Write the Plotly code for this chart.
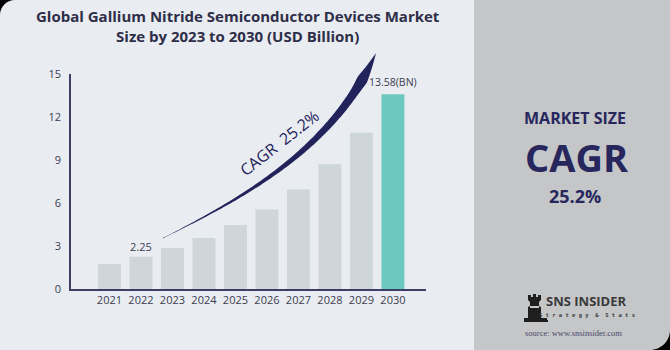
import numpy as np
import plotly.graph_objects as go

years = ["2021", "2022", "2023", "2024", "2025", "2026", "2027", "2028", "2029", "2030"]
values = [1.74, 2.25, 2.87, 3.56, 4.46, 5.55, 6.94, 8.70, 10.90, 13.58]
y_ticks = [0, 3, 6, 9, 12, 15]
bar_colors = ["#CFD6DB"] * 9 + ["#6CC9C0"]
title_text = "Global Gallium Nitride Semiconductor Devices Market<br>Size by 2023 to 2030 (USD Billion)"
cagr_text = "CAGR  25.2%"

W, H = 670, 350
L, R, T, B = 71, 244, 74, 61
PW, PH = W - L - R, H - T - B
NAVY = "#23235C"
FONT = "'Open Sans', sans-serif"

xpos = list(range(len(years)))


def px(x, y):
    return ((x - L) / PW, (H - B - y) / PH)


def path_from(points):
    pts = [px(x, y) for x, y in points]
    s = "M %.5f,%.5f " % pts[0]
    for p in pts[1:]:
        s += "L %.5f,%.5f " % p
    return s + "Z"


fig = go.Figure()
fig.add_trace(go.Bar(
    x=xpos, y=values, marker=dict(color=bar_colors, line=dict(width=0)),
    width=0.73, hoverinfo="skip", showlegend=False,
))

shapes = []
x0, y0 = px(474, 0)
x1, y1 = px(W, H)
shapes.append(dict(type="rect", xref="paper", yref="paper", x0=x0, y0=y1, x1=x1, y1=y0,
                   fillcolor="#C5C6C8", line=dict(width=0), layer="below"))

# swoosh arrow
P = np.array([[163, 238], [250, 195], [335, 145], [376, 53]], dtype=float)
t = np.linspace(0, 1, 90)
c = ((1 - t) ** 3)[:, None] * P[0] + (3 * (1 - t) ** 2 * t)[:, None] * P[1] + \
    (3 * (1 - t) * t ** 2)[:, None] * P[2] + (t ** 3)[:, None] * P[3]
d = np.gradient(c, axis=0)
n = np.stack([-d[:, 1], d[:, 0]], axis=1)
n /= np.linalg.norm(n, axis=1)[:, None]
w = np.where(t < 0.85, 0.3 + 8.2 * (t / 0.85) ** 1.2,
             np.where(t < 0.9, 8.5 + 50 * (t - 0.85), 11.0 * (1 - t) / 0.1))
upper = c + n * (w / 2)[:, None]
lower = c - n * (w / 2)[:, None]
poly = list(map(tuple, upper)) + list(map(tuple, lower[::-1]))
shapes.append(dict(type="path", xref="paper", yref="paper", path=path_from(poly),
                   fillcolor=NAVY, line=dict(width=0)))


def corner_tl(r):
    k = 0.448 * r
    a = px(0, 0); b = px(r, 0); c1 = px(k, 0); c2 = px(0, k); e = px(0, r)
    return "M %.5f,%.5f L %.5f,%.5f C %.5f,%.5f %.5f,%.5f %.5f,%.5f Z" % (a + b + c1 + c2 + e)


def corner_br(r):
    k = 0.448 * r
    a = px(W, H); b = px(W - r, H); c1 = px(W - k, H); c2 = px(W, H - k); e = px(W, H - r)
    return "M %.5f,%.5f L %.5f,%.5f C %.5f,%.5f %.5f,%.5f %.5f,%.5f Z" % (a + b + c1 + c2 + e)


shapes.append(dict(type="path", xref="paper", yref="paper", path=corner_tl(15),
                   fillcolor="#000000", line=dict(width=0)))
shapes.append(dict(type="path", xref="paper", yref="paper", path=corner_br(20),
                   fillcolor="#000000", line=dict(width=0)))

# rook logo
rook = [(528, 295), (531, 295), (531, 297), (533, 297), (533, 294), (536, 294), (536, 297),
        (538, 297), (538, 295), (541, 295), (541, 300), (539, 302), (539, 306), (541, 307),
        (541, 318), (547, 318), (547, 322), (524, 322), (524, 318), (528, 318), (528, 307),
        (530, 306), (530, 302), (528, 300)]
shapes.append(dict(type="path", xref="paper", yref="paper", path=path_from(rook),
                   fillcolor="#1E1E1E", line=dict(width=0)))
lx0, ly0 = px(530, 306)
lx1, ly1 = px(539, 308)
shapes.append(dict(type="rect", xref="paper", yref="paper", x0=lx0, y0=ly1, x1=lx1, y1=ly0,
                   fillcolor="#C5C6C8", line=dict(width=0)))

annotations = []


def ann(text, x, y, size, color, family=FONT, bold=False, angle=0, xanchor="center"):
    ax, ay = px(x, y)
    annotations.append(dict(
        text=("<b>%s</b>" % text) if bold else text, x=ax, y=ay, xref="paper", yref="paper",
        showarrow=False, xanchor=xanchor, yanchor="middle", textangle=angle,
        font=dict(size=size, color=color, family=family),
    ))


ann(title_text, 238, 26, 15, "#2E2E48", bold=True)
ann(cagr_text, 279, 143, 16, NAVY, angle=-38)
ann("MARKET SIZE", 575, 118, 16, "#27275E", bold=True)
ann("CAGR", 577, 157, 38, "#27275E", bold=True)
ann("25.2%", 575, 196, 18, "#27275E", bold=True)
ann("<b>SNS INSIDER</b>", 586, 301, 13, "#3A3A3A", family="'Liberation Sans Narrow', 'Open Sans', sans-serif")
ann("<b>S t r a t e g y  &amp;  S t a t s</b>", 587, 315, 5.5, "#3A3A3A", family="'DejaVu Sans Mono', monospace")
ann("source: www.snsinsider.com", 573, 333, 8.5, "#4A4A6A", family="'Liberation Serif', serif")

# value labels on bars
for i, yr in enumerate(years):
    if yr == "2022":
        annotations.append(dict(x=xpos[i], y=values[i], xref="x", yref="y", text="%.2f" % values[i],
                                showarrow=False, yanchor="bottom", yshift=1,
                                font=dict(size=11, color="#3C3C50", family=FONT)))
    if yr == "2030":
        annotations.append(dict(x=xpos[i], y=values[i], xref="x", yref="y", text="%.2f(BN)" % values[i],
                                showarrow=False, yanchor="bottom", yshift=3,
                                font=dict(size=10.5, color="#3C3C50", family=FONT)))

fig.update_layout(
    width=W, height=H, margin=dict(l=L, r=R, t=T, b=B),
    paper_bgcolor="#E9ECF1", plot_bgcolor="#E9ECF1",
    shapes=shapes, annotations=annotations,
    xaxis=dict(range=[-1.22, 10.05], tickvals=xpos, ticktext=years, showgrid=False, showline=True,
               zeroline=False, linecolor="#3D3D66", linewidth=1.5, ticks="", fixedrange=True,
               tickfont=dict(size=11, color="#3C3C50", family=FONT)),
    yaxis=dict(range=[0, 15], tickvals=y_ticks, showgrid=False, showline=True, zeroline=False,
               linecolor="#3D3D66", linewidth=1.5, ticks="outside", ticklen=6,
               tickcolor="rgba(0,0,0,0)",
               tickfont=dict(size=11, color="#3C3C50", family=FONT)),
)
ux0, uy0 = px(541, 320)
ux1, uy1 = px(548, 322)
fig.add_shape(type="rect", xref="paper", yref="paper", x0=ux0, y0=uy1, x1=ux1, y1=uy0,
              fillcolor="#1E1E1E", line=dict(width=0))

fig.write_html("out.html")
